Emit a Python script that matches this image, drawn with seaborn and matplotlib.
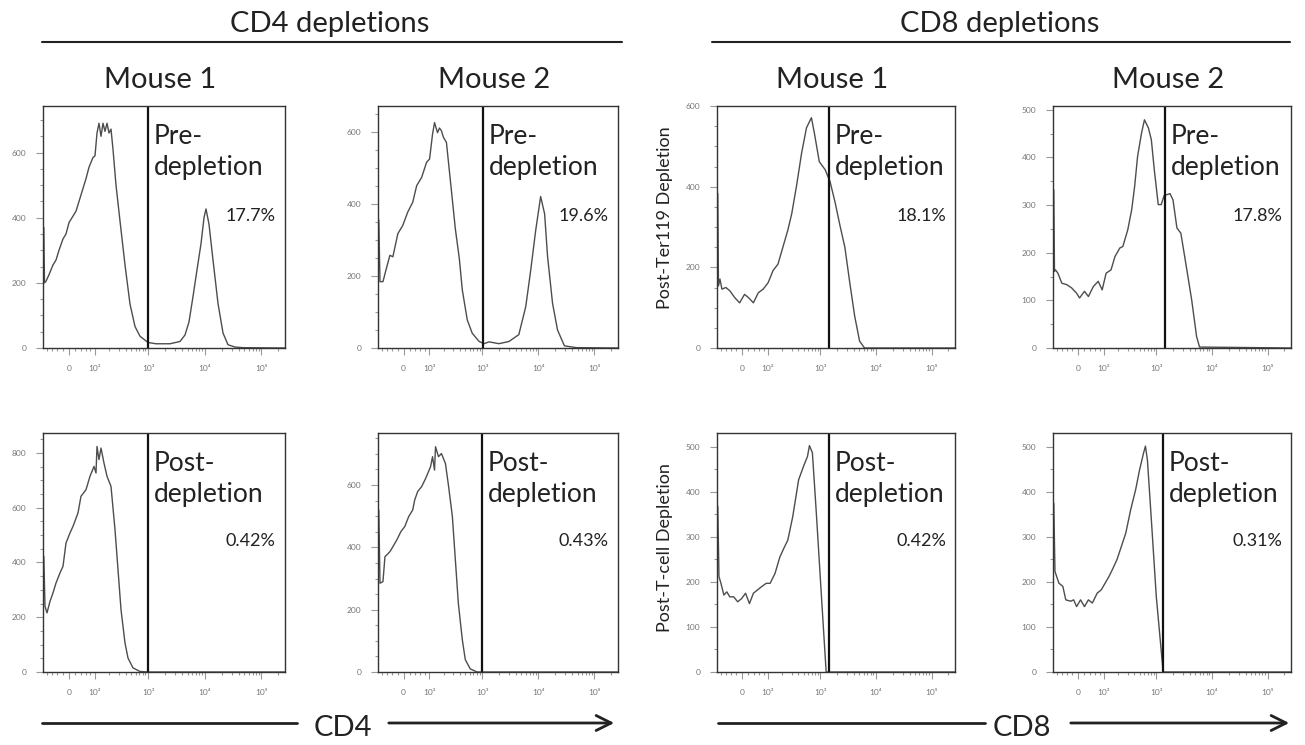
import numpy as np
import matplotlib
matplotlib.use("Agg")
import matplotlib.pyplot as plt
from matplotlib.ticker import AutoMinorLocator, MultipleLocator
import seaborn as sns

# ---------------- data ----------------
# x readings are display channels (0..242 across the logicle-like axis)
cd4_m1_pre_ch = [0.8, 1.5, 3, 6, 10, 13, 16, 20, 23, 26, 30, 33, 36, 40, 43, 46, 50, 52, 54, 56, 58, 60, 62, 64, 66, 68, 70, 73, 77, 82, 87, 92, 97, 105, 113, 127, 137, 142, 146, 150, 154, 158, 161, 163, 166, 170, 175, 180, 185, 192, 200, 242]
cd4_m1_pre_count = [370, 200, 205, 225, 255, 270, 300, 335, 350, 385, 405, 420, 450, 490, 520, 555, 585, 590, 660, 690, 650, 690, 665, 690, 660, 672, 610, 500, 390, 255, 135, 66, 36, 17, 13, 13, 20, 40, 80, 158, 240, 320, 400, 427, 380, 270, 137, 46, 10, 3, 1, 0]

cd4_m2_pre_ch = [0.8, 2, 5, 8, 12, 15, 20, 25, 30, 35, 39, 44, 49, 52, 55, 57, 60, 62, 64, 66, 69, 74, 78, 82, 85, 90, 95, 102, 107, 112, 122, 132, 142, 149, 154, 159, 164, 168, 171, 176, 181, 188, 200, 242]
cd4_m2_pre_count = [355, 184, 184, 216, 257, 253, 317, 340, 377, 404, 450, 473, 515, 524, 593, 625, 597, 610, 602, 584, 570, 437, 330, 248, 161, 78, 41, 18, 12, 17, 12, 18, 37, 115, 216, 326, 420, 372, 253, 124, 50, 6, 1, 0]

cd8_m1_pre_ch = [0.8, 1.5, 3, 5, 9, 13, 18, 23, 28, 32, 37, 42, 47, 52, 57, 62, 67, 72, 76, 81, 86, 91, 96, 99, 104, 110, 115, 120, 125, 130, 135, 140, 145, 150, 242]
cd8_m1_pre_count = [383, 154, 171, 146, 150, 142, 125, 112, 133, 125, 112, 137, 146, 162, 192, 208, 250, 292, 333, 404, 483, 546, 571, 533, 462, 442, 412, 362, 304, 250, 162, 79, 17, 0, 0]

cd8_m2_pre_ch = [0.8, 1.5, 2.5, 5, 9, 14, 19, 24, 27, 32, 36, 41, 46, 50, 54, 59, 63, 68, 71, 76, 80, 83, 86, 90, 93, 97, 100, 103, 107, 110, 113, 119, 122, 126, 130, 135, 141, 146, 149, 242]
cd8_m2_pre_count = [332, 161, 164, 157, 136, 133, 126, 115, 105, 119, 108, 129, 140, 122, 157, 164, 192, 210, 213, 248, 290, 339, 402, 451, 479, 462, 437, 374, 301, 301, 320, 324, 311, 252, 241, 178, 101, 24, 2, 0]

cd4_m1_post_ch = [0.8, 2, 4, 7, 10, 13, 17, 20, 23, 27, 30, 35, 38, 43, 47, 51, 53, 54, 56, 58, 61, 64, 68, 72, 75, 78, 82, 85, 90, 97, 105, 242]
cd4_m1_post_count = [422, 240, 216, 258, 289, 325, 362, 386, 471, 508, 532, 581, 642, 666, 715, 751, 727, 824, 776, 818, 763, 715, 678, 520, 374, 228, 106, 51, 15, 2, 0, 0]

cd4_m2_post_ch = [0.8, 2, 5, 7, 12, 15, 19, 23, 27, 31, 35, 37, 40, 44, 48, 53, 55, 57, 58, 61, 64, 68, 71, 75, 78, 81, 85, 88, 93, 100, 242]
cd4_m2_post_count = [520, 285, 290, 370, 386, 402, 424, 450, 467, 499, 520, 552, 579, 595, 621, 659, 691, 648, 723, 691, 701, 669, 600, 499, 360, 221, 104, 40, 10, 0, 0]

cd8_m1_post_ch = [0.8, 2, 4, 7, 10, 13, 17, 21, 25, 29, 33, 37, 41, 45, 50, 54, 59, 64, 68, 72, 77, 83, 88, 92, 94, 97, 101, 106, 111, 242]
cd8_m1_post_count = [368, 212, 197, 171, 178, 167, 167, 156, 163, 175, 152, 175, 182, 189, 197, 197, 219, 256, 275, 293, 345, 427, 457, 479, 503, 487, 353, 175, 0, 0]

cd8_m2_post_ch = [0.8, 2, 6, 10, 13, 18, 21, 24, 28, 32, 36, 40, 45, 49, 53, 57, 61, 65, 69, 74, 79, 84, 88, 92, 94, 96, 100, 105, 112, 242]
cd8_m2_post_count = [374, 223, 197, 190, 160, 157, 160, 145, 160, 145, 160, 153, 175, 182, 197, 212, 230, 249, 275, 308, 360, 404, 448, 485, 501, 470, 338, 168, 0, 0]

gate_ch_pre = [105, 106, 114, 114]
gate_ch_post = [105, 105, 114, 112]

pct_pre = ["17.7%", "19.6%", "18.1%", "17.8%"]
pct_post = ["0.42%", "0.43%", "0.42%", "0.31%"]

ymax_pre = [743, 671, 600, 508]
ymax_post = [873, 767, 531, 530]
ystep_pre = [200, 200, 200, 100]
ystep_post = [200, 200, 100, 100]

group_titles = ["CD4 depletions", "CD8 depletions"]
mouse_titles = ["Mouse 1", "Mouse 2", "Mouse 1", "Mouse 2"]
row_ylabels = ["Post-Ter119 Depletion", "Post-T-cell Depletion"]
marker_labels = ["CD4", "CD8"]
xtick_values = [0, 1e2, 1e3, 1e4, 1e5]
xtick_labels = ["0", "10²", "10³", "10⁴", "10⁵"]

# ---------------- scale helpers ----------------
LW = 80.0
XMIN, XMAX = -100.0, 262144.0
U_MIN, U_MAX = np.arcsinh(XMIN / LW), np.arcsinh(XMAX / LW)
N_CH = 242.0


def ch_to_value(ch):
    ch = np.asarray(ch, dtype=float)
    return LW * np.sinh(U_MIN + ch / N_CH * (U_MAX - U_MIN))


sns.set_theme(style="white")
plt.rcParams["font.family"] = ["Lato", "DejaVu Sans"]

W, H = 1305, 745
fig = plt.figure(figsize=(W / 100, H / 100), dpi=100)

cols = [(43, 285), (378, 618), (717, 955), (1053, 1291)]
rows = [(106, 348), (433, 672)]

pre_data = [(cd4_m1_pre_ch, cd4_m1_pre_count), (cd4_m2_pre_ch, cd4_m2_pre_count),
            (cd8_m1_pre_ch, cd8_m1_pre_count), (cd8_m2_pre_ch, cd8_m2_pre_count)]
post_data = [(cd4_m1_post_ch, cd4_m1_post_count), (cd4_m2_post_ch, cd4_m2_post_count),
             (cd8_m1_post_ch, cd8_m1_post_count), (cd8_m2_post_ch, cd8_m2_post_count)]

minor_x = [-80, -60, -40, -20, 20, 40, 60, 80] + [k * 10 ** n for n in (2, 3, 4) for k in range(2, 10)] + [2e5]

for r, (top, bot) in enumerate(rows):
    data = pre_data if r == 0 else post_data
    gates = gate_ch_pre if r == 0 else gate_ch_post
    pcts = pct_pre if r == 0 else pct_post
    ymaxs = ymax_pre if r == 0 else ymax_post
    ysteps = ystep_pre if r == 0 else ystep_post
    label = "Pre-\ndepletion" if r == 0 else "Post-\ndepletion"
    for c, (left, right) in enumerate(cols):
        ax = fig.add_axes([left / W, 1 - bot / H, (right - left) / W, (bot - top) / H])
        ch, cnt = data[c]
        sns.lineplot(x=ch_to_value(ch), y=cnt, ax=ax, color="#4d4d4d", linewidth=1.0,
                     estimator=None, sort=False)
        ax.set_xscale("asinh", linear_width=LW)
        ax.set_xlim(XMIN, XMAX)
        ax.set_ylim(0, ymaxs[c])
        gx = float(ch_to_value(gates[c]))
        ax.axvline(gx, color="#111111", linewidth=1.6)
        ax.set_xticks(xtick_values)
        ax.set_xticklabels(xtick_labels)
        ax.set_xticks(minor_x, minor=True)
        ax.yaxis.set_major_locator(MultipleLocator(ysteps[c]))
        ax.yaxis.set_minor_locator(AutoMinorLocator(4 if ysteps[c] == 200 else 2))
        ax.tick_params(which="both", direction="out", color="#999999", width=0.8,
                       labelsize=6, labelcolor="#777777", bottom=True, left=True)
        ax.tick_params(which="major", length=5, pad=7)
        ax.tick_params(which="minor", length=2.5)
        ax.set_xlabel("")
        ax.set_ylabel("")
        for s in ax.spines.values():
            s.set_color("#333333")
            s.set_linewidth(1.0)
        ax.annotate(label, xy=(gx, 0.925), xycoords=("data", "axes fraction"),
                    xytext=(4, 0), textcoords="offset points", ha="left", va="top",
                    fontsize=19, color="#222222", linespacing=1.3)
        ax.text(0.962, 0.55 if r == 1 else 0.545, pcts[c], transform=ax.transAxes,
                ha="right", va="center", fontsize=13, color="#222222")

# ---------------- overlay annotations ----------------
ov = fig.add_axes([0, 0, 1, 1], zorder=-1)
ov.set_xlim(0, W)
ov.set_ylim(H, 0)
ov.axis("off")

ov.text(330, 24, group_titles[0], ha="center", va="center", fontsize=21, color="#222222")
ov.text(1000, 24, group_titles[1], ha="center", va="center", fontsize=21, color="#222222")
ov.plot([42, 622], [42, 42], color="#222222", lw=1.5)
ov.plot([712, 1290], [42, 42], color="#222222", lw=1.5)

for (left, right), t in zip(cols, mouse_titles):
    ov.text((left + right) / 2 - 4, 80, t, ha="center", va="center", fontsize=21, color="#222222")

ov.text(665, 218, row_ylabels[0], rotation=90, ha="center", va="center", fontsize=13, color="#222222")
ov.text(665, 548, row_ylabels[1], rotation=90, ha="center", va="center", fontsize=13, color="#222222")

ov.plot([42, 297], [723, 723], color="#222222", lw=2)
ov.text(343, 728, marker_labels[0], ha="center", va="center", fontsize=21, color="#222222")
ov.annotate("", xy=(617, 723), xytext=(386, 723),
            arrowprops=dict(arrowstyle="->,head_length=0.9,head_width=0.45", lw=2, color="#222222"))

ov.plot([718, 985], [723, 723], color="#222222", lw=2)
ov.text(1022, 728, marker_labels[1], ha="center", va="center", fontsize=21, color="#222222")
ov.annotate("", xy=(1292, 723), xytext=(1068, 723),
            arrowprops=dict(arrowstyle="->,head_length=0.9,head_width=0.45", lw=2, color="#222222"))

fig.savefig("out.png", dpi=100)
